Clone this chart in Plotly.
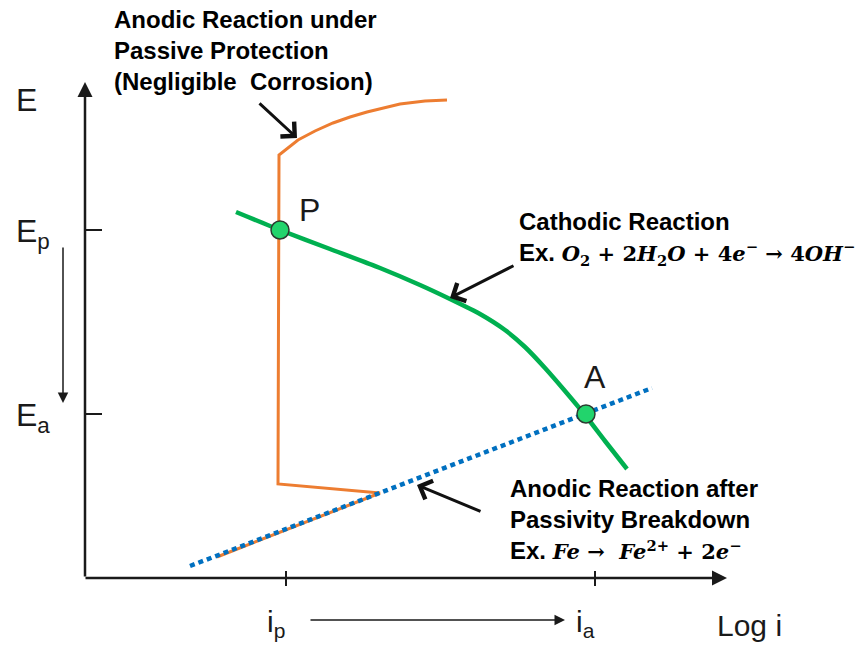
import plotly.graph_objects as go

# diagram units: log i to the right, E upwards, origin at the axes corner
passive_logi = [132, 295, 193, 194, 213, 230, 248, 265, 282, 300, 315, 340, 362]
passive_E = [21, 85, 94, 423, 438, 447, 455, 461, 466, 470, 474, 477, 478]

active_logi = [105, 567]
active_E = [12, 190]

cathodic_logi = [151, 195, 245, 295, 335, 365, 395, 420, 440, 460, 480, 500, 520, 542]
cathodic_E = [366, 348, 329, 310, 293, 279, 264, 248, 231, 210, 187, 163, 137, 109]

point_names = ["P", "A"]
point_logi = [195, 501]
point_E = [348, 164]
label_dx = [29, 9]
label_dy = [20, 37]

E_ticks = {"E<sub>p</sub>": 348, "E<sub>a</sub>": 164}
i_ticks = {"i<sub>p</sub>": 201, "i<sub>a</sub>": 510}

SANS = "Liberation Sans, Arial, sans-serif"
SERIF = "DejaVu Serif, serif"
INK = "#1a1a1a"

fig = go.Figure()
fig.add_trace(go.Scatter(x=passive_logi, y=passive_E, mode="lines",
                         line=dict(color="#ED7D31", width=3)))
fig.add_trace(go.Scatter(x=active_logi, y=active_E, mode="lines",
                         line=dict(color="#0070C0", width=4.5, dash="5px,4px")))
fig.add_trace(go.Scatter(x=cathodic_logi, y=cathodic_E, mode="lines",
                         line=dict(color="#00B050", width=4.5, shape="spline", smoothing=0.6)))
fig.add_trace(go.Scatter(x=point_logi, y=point_E, mode="markers",
                         marker=dict(size=18, color="#22D46C", line=dict(color="#2b3b30", width=1.5))))

# point labels
for name, px_, py_, dx, dy in zip(point_names, point_logi, point_E, label_dx, label_dy):
    fig.add_annotation(x=px_ + dx, y=py_ + dy, text=name, showarrow=False,
                       xanchor="center", yanchor="middle", font=dict(family=SANS, size=32, color=INK))

# axes drawn as arrows
def arrow(x0, y0, x1, y1, width, head=2, size=1.0, color=INK):
    fig.add_annotation(x=x1, y=y1, ax=x0, ay=y0, xref="x", yref="y", axref="x", ayref="y",
                       text="", showarrow=True, arrowhead=head, arrowsize=size,
                       arrowwidth=width, arrowcolor=color, standoff=0, startstandoff=0)

arrow(0, 0, 0, 496, 2.5, head=2, size=1.2)
arrow(-1, 0, 642, 0, 2.5, head=2, size=1.2)
arrow(-22, 332, -22, 175, 1.5, head=2, size=1.4)
arrow(224, -42, 480, -42, 1.5, head=2, size=1.4)

# pointer arrows to the curves
arrow(173, 476, 212, 440, 3, head=4, size=1.3, color="#111111")
arrow(430, 313, 365, 280, 3, head=4, size=1.3, color="#111111")
arrow(397, 66, 332, 93, 3, head=4, size=1.3, color="#111111")

for lbl, yv in E_ticks.items():
    fig.add_shape(type="line", x0=0, x1=17, y0=yv, y1=yv, line=dict(color=INK, width=2))
    fig.add_annotation(x=-71, y=yv - 3, text=lbl, showarrow=False, xanchor="left", yanchor="middle",
                       font=dict(family=SANS, size=32, color=INK))
for lbl, xv in i_ticks.items():
    fig.add_shape(type="line", x0=xv, x1=xv, y0=-8, y1=7, line=dict(color=INK, width=2))
    fig.add_annotation(x=xv - 21, y=-45, text=lbl, showarrow=False, xanchor="left", yanchor="middle",
                       font=dict(family=SANS, size=30, color=INK))

fig.add_annotation(x=-71, y=478, text="E", showarrow=False, xanchor="left", yanchor="middle",
                   font=dict(family=SANS, size=32, color=INK))
fig.add_annotation(x=630, y=-47, text="Log i", showarrow=False, xanchor="left", yanchor="middle",
                   font=dict(family=SANS, size=30, color=INK))

bold = dict(family=SANS, size=24, color="#000000")
fig.add_annotation(x=27, y=528, xanchor="left", yanchor="middle", align="left", showarrow=False,
                   text="<b>Anodic Reaction under<br>Passive Protection<br>(Negligible  Corrosion)</b>",
                   font=bold)

eq_style = "font-family:" + SERIF + ";font-size:21px"
eq_cath = ("<span style='" + eq_style + "'><b><i>O</i><sub>2</sub> + 2<i>H</i><sub>2</sub><i>O</i>"
           " + 4<i>e</i><sup>−</sup> → 4<i>OH</i><sup>−</sup></b></span>")
fig.add_annotation(x=432, y=340, xanchor="left", yanchor="middle", align="left", showarrow=False,
                   text="<b>Cathodic Reaction<br>Ex. </b>" + eq_cath, font=bold)

eq_fe = ("<span style='" + eq_style + "'><b><i>Fe</i> →  <i>Fe</i><sup>2+</sup>"
         " + 2<i>e</i><sup>−</sup></b></span>")
fig.add_annotation(x=423, y=59, xanchor="left", yanchor="middle", align="left", showarrow=False,
                   text="<b>Anodic Reaction after<br>Passivity Breakdown<br>Ex. </b>" + eq_fe, font=bold)

fig.update_layout(
    width=863, height=645,
    margin=dict(l=0, r=0, t=0, b=0),
    paper_bgcolor="white", plot_bgcolor="white",
    showlegend=False,
    xaxis=dict(range=[-85, 778], visible=False, fixedrange=True),
    yaxis=dict(range=[-67, 578], visible=False, fixedrange=True),
)

fig.write_html("out.html", config={"displayModeBar": False},
               post_script="document.body.style.margin='0';")
